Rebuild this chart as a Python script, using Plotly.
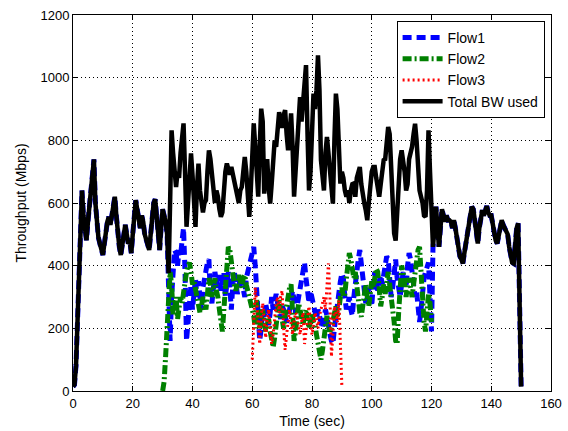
import numpy as np
import plotly.graph_objects as go

# Sampling interval of the throughput log (seconds)
STEP = 0.5

# Aggregate throughput on the link, t = 0 ... 150 s (Mbps)
total_bw = [
    14, 20, 80, 200, 380, 500, 640, 560, 520, 481, 540, 588, 640, 700, 739, 600, 535, 490, 470, 450,
    434, 470, 513, 540, 556, 530, 560, 600, 620, 560, 492, 460, 434, 470, 513, 530, 500, 470, 480, 440,
    500, 560, 609, 580, 540, 520, 560, 540, 500, 480, 460, 450, 500, 560, 600, 612, 560, 500, 450, 520,
    580, 560, 540, 500, 376, 600, 832, 760, 690, 651, 700, 680, 760, 820, 854, 700, 524, 600, 690, 758,
    690, 600, 524, 650, 726, 640, 600, 570, 600, 609, 700, 768, 740, 690, 640, 600, 640, 620, 580, 556,
    570, 640, 700, 726, 700, 690, 715, 690, 660, 640, 620, 600, 640, 651, 700, 747, 700, 620, 556, 640,
    760, 854, 780, 680, 620, 780, 901, 860, 630, 700, 740, 650, 598, 660, 740, 800, 779, 850, 890, 860,
    840, 880, 896, 820, 768, 820, 886, 780, 620, 700, 800, 900, 938, 860, 940, 1000, 1040, 820, 640, 700,
    820, 949, 900, 960, 1071, 960, 737, 660, 640, 760, 811, 760, 700, 620, 598, 800, 949, 900, 760, 662,
    700, 680, 640, 620, 641, 600, 640, 660, 662, 620, 680, 700, 715, 660, 620, 600, 577, 545, 600, 660,
    700, 715, 715, 680, 640, 620, 660, 700, 737, 740, 800, 843, 820, 700, 560, 503, 480, 560, 680, 740,
    768, 740, 700, 640, 660, 740, 758, 780, 820, 853, 800, 700, 640, 620, 600, 560, 556, 640, 832, 700,
    560, 460, 520, 588, 520, 460, 520, 580, 560, 540, 560, 545, 545, 540, 520, 545, 520, 480, 460, 430,
    420, 407, 440, 480, 500, 530, 560, 588, 580, 540, 500, 471, 520, 560, 577, 560, 580, 590, 570, 560,
    560, 530, 500, 480, 471, 500, 530, 545, 530, 520, 510, 500, 460, 430, 410, 407, 470, 520, 535, 260,
    14,
]

# Flow1 while it shares the link with the other flows, t = 32 ... 120 s
flow1_shared = [
    240, 160, 300, 380, 450, 440, 400, 450, 430, 480,
    520, 380, 160, 220, 300, 340, 260, 300, 360, 300,
    350, 300, 260, 330, 360, 400, 410, 420, 300, 280,
    340, 380, 350, 330, 370, 320, 360, 380, 300, 340,
    380, 330, 260, 340, 380, 350, 310, 330, 370, 350,
    320, 300, 360, 380, 400, 430, 450,
    460, 400, 300, 220, 160, 200, 260, 230, 280, 250,
    210, 250, 300, 260, 290, 310, 280, 250, 230, 270,
    260, 240, 220, 230, 260, 300, 320, 290, 250, 270,
    300, 330, 360, 400, 410, 360, 300, 280, 320, 300,
    270, 250, 230, 260, 240, 220, 200, 230, 260, 240,
    200, 180, 160, 150, 200, 240, 280, 330, 350, 375,
    360, 300, 260, 280, 300, 260, 240, 300, 350, 380,
    420, 450, 400, 360, 320, 280, 300, 330, 300, 270,
    340, 380, 350, 320, 350, 370, 340, 380, 410, 430,
    420, 360, 300, 330, 380, 420, 360, 320, 300, 340,
    380, 350, 330, 400, 440, 420, 370, 330, 300, 320,
    280, 220, 260, 320, 360, 380, 400, 410, 300, 190,
]

# Flow2, t = 30 ... 120 s
flow2 = [
    0, 30, 110, 200, 290, 380, 340, 240, 260, 300,
    230, 260, 300, 280, 320, 360, 380, 400, 410, 380,
    340, 350, 320, 300, 280, 250, 270, 300, 280, 260,
    310, 360, 340, 300, 330, 360, 320, 300, 260, 200,
    190, 260, 340, 420, 460, 450, 400, 360, 340, 320,
    350, 370, 350, 330, 360, 370, 340, 320, 300, 280,
    260,
    240, 200, 290, 250, 200, 230, 260, 220, 190, 210,
    230, 190, 160, 140, 170, 220, 260, 290, 260, 230,
    200, 240, 280, 310, 330, 340, 260, 160, 190, 250,
    280, 260, 230, 210, 240, 260, 230, 200, 230, 250,
    220, 210, 180, 150, 120, 100, 130, 180, 220, 240,
    210, 190, 200, 230, 250, 270, 240, 260, 300, 330,
    300, 310, 360, 400, 440, 420, 380, 360, 380, 330,
    280, 250, 237, 280, 320, 340, 300, 270, 310, 350,
    330, 360, 390, 380, 320, 270, 300, 340, 310, 350,
    380, 340, 300, 280, 220, 160, 150, 250, 350, 400,
    380, 330, 300, 340, 360, 330, 300, 340, 380, 420,
    450, 460, 400, 300, 220, 190, 250, 310, 280, 220,
]

# Flow3, t = 60 ... 90 s
flow3 = [
    100, 200, 330, 280, 200, 150, 240, 280, 220, 170,
    230, 260, 200, 150, 180, 240, 280, 300, 250, 300,
    320, 200, 131, 180, 230, 260, 210, 180, 220, 250,
    240, 200, 180, 220, 250, 150, 190, 240, 270, 220,
    180, 210, 250, 230, 200, 240, 260, 280, 300, 260,
    330, 407, 300, 110, 180, 270, 250, 220, 290, 150,
    14,
]

FLOW2_START = 30.0
FLOW3_START = 60.0
SHARED_START = 32.0
SHARED_END = 120.0

t_total = np.arange(len(total_bw)) * STEP

# Flow1 carries the whole link when it is alone (before 32 s and after 120 s)
i0 = int(round(SHARED_START / STEP))
i1 = int(round(SHARED_END / STEP)) + 1
flow1 = total_bw[:i0] + flow1_shared + total_bw[i1:]

t_flow2 = FLOW2_START + np.arange(len(flow2)) * STEP
t_flow3 = FLOW3_START + np.arange(len(flow3)) * STEP

FONT = "Liberation Sans, Arial, Helvetica, sans-serif"

fig = go.Figure()
fig.add_trace(go.Scatter(
    x=t_total, y=flow1, mode="lines", name="Flow1",
    line=dict(color="#0000ff", width=5, dash="9px,5px"),
))
fig.add_trace(go.Scatter(
    x=t_flow2, y=flow2, mode="lines", name="Flow2",
    line=dict(color="#008000", width=5, dash="9px,3px,2px,3px"),
))
fig.add_trace(go.Scatter(
    x=t_flow3, y=flow3, mode="lines", name="Flow3",
    line=dict(color="#ff0000", width=3, dash="2px,3px"),
))
fig.add_trace(go.Scatter(
    x=t_total, y=total_bw, mode="lines", name="Total BW used",
    line=dict(color="#000000", width=4.5),
))

axis_common = dict(
    showline=True, linecolor="black", linewidth=1, mirror="ticks",
    ticks="inside", ticklen=5, tickcolor="black", tickwidth=1,
    showgrid=True, gridcolor="black", gridwidth=1, griddash="1px,3px",
    zeroline=False, automargin=False,
    tickfont=dict(family=FONT, size=13, color="black"),
)

fig.update_layout(
    width=568, height=431, autosize=False,
    margin=dict(l=73, r=17, t=15, b=40),
    paper_bgcolor="white", plot_bgcolor="white",
    font=dict(family=FONT, size=13, color="black"),
    xaxis=dict(range=[0, 160], tick0=0, dtick=20,
               title=dict(text="Time (sec)", font=dict(family=FONT, size=14), standoff=6),
               **axis_common),
    yaxis=dict(range=[0, 1200], tick0=0, dtick=200,
               title=dict(text="Throughput (Mbps)", font=dict(family=FONT, size=14), standoff=10),
               **axis_common),
    legend=dict(
        x=0.9866, y=0.984, xanchor="right", yanchor="top",
        bgcolor="white", bordercolor="black", borderwidth=1,
        font=dict(family=FONT, size=14, color="black"),
        tracegroupgap=0, itemwidth=40,
    ),
    showlegend=True,
)

fig.write_html("out.html")
